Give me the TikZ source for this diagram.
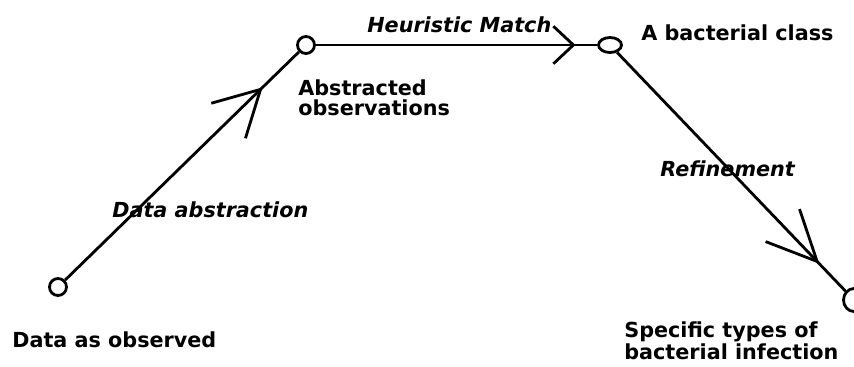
\documentclass[tikz,border=0pt]{standalone}
\usepackage{fontspec}
\setmainfont{DejaVu Sans}
\usepackage{tikz}
\usetikzlibrary{arrows.meta}
\usetikzlibrary{shapes.geometric}
\usetikzlibrary{decorations.markings}

\tikzset{
	barb/.style n args={3}{postaction={decorate,decoration={markings,
		mark=at position #1 with {\arrow{Straight Barb[length=#2,width=#3]}}}}}
}

\begin{document}
\begin{tikzpicture}[x=0.02cm,y=-0.02cm]
			\useasboundingbox (0,0) rectangle (854,366);
			\tikzstyle{every node}=[inner sep=0pt]
			\tikzstyle{state}=[draw,circle,line width=1.6pt,minimum size=0.34cm]
			\tikzstyle{oval}=[draw,ellipse,line width=1.6pt,minimum width=0.46cm,minimum height=0.3cm]
			\tikzstyle{lbl}=[font=\fontsize{11.8}{11.4}\selectfont\bfseries,align=left]
			\tikzstyle{elbl}=[font=\fontsize{11.8}{11.4}\selectfont\bfseries\itshape]
			
			\node (obs) [state] at (58,287) {};
			\node (abs) [state] at (306,45) {};
			\node (cls) [oval] at (610,45) {};
			\node (inf) [oval,minimum width=0.42cm,minimum height=0.46cm] at (854,300) {};
			
			\node (obsText) [lbl,anchor=base west] at (12,347) {Data as observed};
			\node (absText) [lbl,anchor=north west] at (298,79) {Abstracted\\observations};
			\node (clsText) [lbl,anchor=base west] at (641,40) {A bacterial class};
			\node (infText) [lbl,anchor=north west] at (624,321) {Specific types of\\bacterial infection};
			
			\draw[line width=1.6pt,barb={0.845}{0.9cm}{0.98cm}] (obs) -- (abs);
			\draw[line width=1.6pt,barb={0.923}{0.4cm}{0.75cm}] (abs) -- node[elbl,above=0.22cm,pos=0.51] (hmText) {Heuristic Match} (cls);
			\draw[line width=1.6pt,barb={0.886}{1cm}{0.94cm}] (cls) -- (inf);
			
			\node (daText) [elbl,anchor=base west] at (112,217) {Data abstraction};
			\node (refText) [elbl,anchor=base west] at (660,176) {Refinement};
		\end{tikzpicture}
\end{document}
